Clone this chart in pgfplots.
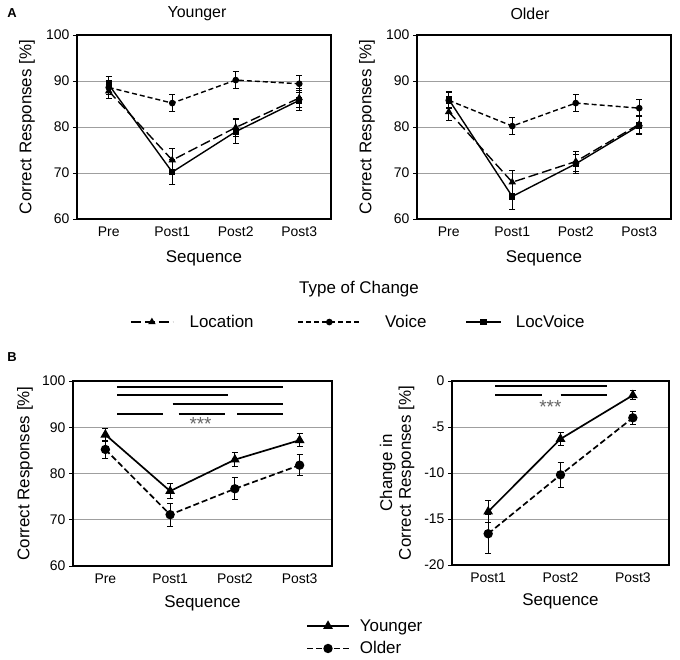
\documentclass[border=0pt]{standalone}
\usepackage{fontspec}
\setmainfont{Liberation Sans}
\usepackage{pgfplots}
\pgfplotsset{compat=1.18}
\pgfplotsset{
 base/.style={
   scale only axis,
   anchor=north west,
   xmin=-0.5, xmax=3.5,
   ymin=60, ymax=100,
   ytick={60,70,80,90,100},
   xtick={0,1,2,3},
   xticklabels={Pre,Post1,Post2,Post3},
   ymajorgrids,
   grid style={gray!75, line width=0.8pt},
   axis line style={line width=1.1pt},
   ytick pos=left,
   tick align=outside,
   major tick length=4bp,
   ytick style={black, line width=0.8pt},
   xtick style={draw=none},
   tick label style={font=\fontsize{14}{15}\selectfont},
   label style={font=\fontsize{17}{19}\selectfont},
   xlabel={Sequence},
   ylabel={Correct Responses [\%]},
   /pgf/number format/assume math mode=true,
   clip=false,
   legend cell align=left,
 },
 limA/.style={legend image code/.code={\draw[mark repeat=2,mark phase=2,##1] plot coordinates {(0bp,0bp) (21bp,0bp) (42bp,0bp)};}},
 limB/.style={legend image code/.code={\draw[mark repeat=2,mark phase=2,##1] plot coordinates {(0bp,0bp) (31bp,0bp) (62bp,0bp)};}},
 limC/.style={legend image code/.code={\draw[mark repeat=2,mark phase=2,##1] plot coordinates {(0bp,0bp) (17.5bp,0bp) (35bp,0bp)};}},
 eb/.style={error bars/.cd, y dir=both, y explicit,
   error bar style={solid, line width=0.8pt},
   error mark options={rotate=90, mark size=3bp, line width=0.8pt, solid}},
 loc/.style={black, line width=1.4pt, dash pattern=on 10bp off 4bp, mark=triangle*, mark size=3bp, mark options={solid}},
 voi/.style={black, line width=1.4pt, dash pattern=on 5bp off 3bp, mark=*, mark size=2.6bp, mark options={solid}},
 lv/.style={black, line width=1.4pt, solid, mark=square*, mark size=2.5bp, mark options={solid}},
 yng/.style={black, line width=1.7pt, solid, mark=triangle*, mark size=4bp, mark options={solid}},
 old/.style={black, line width=1.7pt, dash pattern=on 6bp off 3bp, mark=*, mark size=3.8bp, mark options={solid}},
 sig/.style={black, line width=2pt, no marks, forget plot},
}
\begin{document}
\begin{tikzpicture}
\useasboundingbox (0,0) rectangle (680bp,-660bp);
\node[font=\bfseries\fontsize{13}{14}\selectfont] at (12bp,-13bp) {A};
\node[font=\bfseries\fontsize{13}{14}\selectfont] at (12bp,-357bp) {B};
\node[font=\fontsize{16}{18}\selectfont] at (197bp,-14bp) {Younger};
\node[font=\fontsize{16}{18}\selectfont] at (530bp,-14bp) {Older};
\node[font=\fontsize{17}{19}\selectfont] at (359bp,-289bp) {Type of Change};

% A left: Younger
\begin{axis}[base, at={(77bp,-35bp)}, width=254bp, height=184bp,
  x label style={at={(axis description cs:0.5,-0.212)}, anchor=center},
  y label style={at={(axis description cs:-0.197,0.5)}, anchor=center},
  legend columns=3,
  legend style={at={(axis description cs:0.197,-0.56)}, anchor=west, draw=none, fill=none,
    font=\fontsize{17}{19}\selectfont,
    /tikz/column 1/.style={column sep=14bp},
    /tikz/column 2/.style={column sep=42bp},
    /tikz/column 3/.style={column sep=22bp},
    /tikz/column 4/.style={column sep=37bp},
    /tikz/column 5/.style={column sep=12bp}},
]
\addplot[loc, limA, eb] coordinates {(0,87.8) +- (0,1.5) (1,72.8) +- (0,2.5) (2,79.9) +- (0,2.0) (3,86.3) +- (0,2.0)};
\addplot[voi, limB, eb] coordinates {(0,88.6) +- (0,1.5) (1,85.2) +- (0,1.8) (2,90.2) +- (0,1.8) (3,89.4) +- (0,1.8)};
\addplot[lv, limC, eb] coordinates {(0,89.2) +- (0,1.7) (1,70.2) +- (0,2.7) (2,79.0) +- (0,2.6) (3,85.8) +- (0,2.2)};
\legend{Location, Voice, LocVoice}
\end{axis}

% A right: Older
\begin{axis}[base, at={(417bp,-35bp)}, width=254bp, height=184bp,
  x label style={at={(axis description cs:0.5,-0.212)}, anchor=center},
  y label style={at={(axis description cs:-0.197,0.5)}, anchor=center},
]
\addplot[loc, eb] coordinates {(0,83.3) +- (0,1.8) (1,68.0) +- (0,2.5) (2,72.5) +- (0,2.2) (3,80.6) +- (0,2.0)};
\addplot[voi, eb] coordinates {(0,85.8) +- (0,1.8) (1,80.2) +- (0,1.9) (2,85.2) +- (0,1.8) (3,84.1) +- (0,1.9)};
\addplot[lv, eb] coordinates {(0,86.0) +- (0,1.8) (1,64.9) +- (0,2.8) (2,72.0) +- (0,2.0) (3,80.3) +- (0,2.0)};
\end{axis}

% B left
\begin{axis}[base, at={(73bp,-381bp)}, width=259bp, height=185bp,
  x label style={at={(axis description cs:0.5,-0.2)}, anchor=center},
  y label style={at={(axis description cs:-0.185,0.5)}, anchor=center},
  legend style={at={(axis description cs:0.888,-0.386)}, anchor=west, draw=none, fill=none,
    font=\fontsize{17}{19}\selectfont, row sep=5bp,
    /tikz/column 1/.style={column sep=8bp}},
  legend image code/.code={\draw[mark repeat=2,mark phase=2,#1] plot coordinates {(0bp,0bp) (21bp,0bp) (42bp,0bp)};},
]
\addplot[yng, eb] coordinates {(0,88.4) +- (0,1.4) (1,76.2) +- (0,1.6) (2,83.0) +- (0,1.5) (3,87.2) +- (0,1.4)};
\addplot[old, eb] coordinates {(0,85.2) +- (0,2.0) (1,71.1) +- (0,2.5) (2,76.7) +- (0,2.4) (3,81.8) +- (0,2.3)};
\legend{\makebox[3.85em][l]{Younger}, \makebox[3.85em][l]{Older}}
\addplot[sig] coordinates {(0.18,98.8) (2.75,98.8)};
\addplot[sig] coordinates {(0.18,96.9) (1.89,96.9)};
\addplot[sig] coordinates {(1.04,95.0) (2.75,95.0)};
\addplot[sig] coordinates {(0.18,92.8) (0.89,92.8)};
\addplot[sig] coordinates {(1.13,92.8) (1.85,92.8)};
\addplot[sig] coordinates {(2.04,92.8) (2.75,92.8)};
\node[gray!80!black, font=\fontsize{19}{20}\selectfont] at (axis cs:1.47,90.6) {***};
\end{axis}

% B right
\begin{axis}[base, at={(452bp,-381bp)}, width=217bp, height=184bp,
  xmin=-0.5, xmax=2.5, xtick={0,1,2}, xticklabels={Post1,Post2,Post3},
  ymin=-20, ymax=0, ytick={-20,-15,-10,-5,0}, yticklabels={-20,-15,-10,-5,0},
  ylabel={Change in\\Correct Responses [\%]},
  x label style={at={(axis description cs:0.5,-0.2)}, anchor=center},
  y label style={at={(axis description cs:-0.253,0.5)}, anchor=center, align=center},
]
\addplot[yng, eb] coordinates {(0,-14.2) +- (0,1.2) (1,-6.3) +- (0,0.7) (2,-1.55) +- (0,0.5)};
\addplot[old, eb] coordinates {(0,-16.6) +- (0,2.1) (1,-10.2) +- (0,1.4) (2,-4.0) +- (0,0.7)};
\addplot[sig] coordinates {(0.10,-0.58) (1.64,-0.58)};
\addplot[sig] coordinates {(0.10,-1.55) (0.74,-1.55)};
\addplot[sig] coordinates {(1.0,-1.55) (1.64,-1.55)};
\node[gray!80!black, font=\fontsize{19}{20}\selectfont] at (axis cs:0.86,-2.8) {***};
\end{axis}
\end{tikzpicture}
\end{document}
